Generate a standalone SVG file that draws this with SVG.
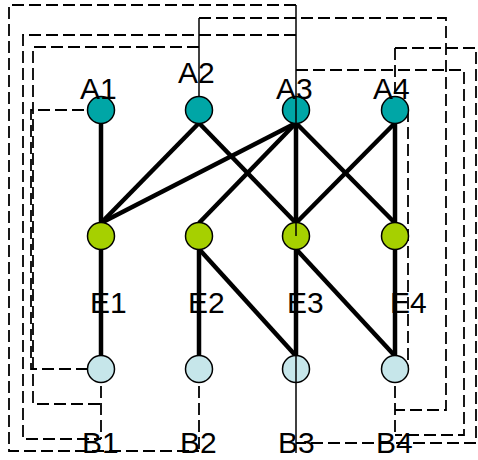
<svg xmlns="http://www.w3.org/2000/svg" width="478" height="460" viewBox="0 0 478 460">
<style>
.d{fill:none;stroke:#000;stroke-width:1.8;stroke-dasharray:12,5}
.t{fill:none;stroke:#000;stroke-width:1.5}
.e{stroke:#000;stroke-width:4.5;stroke-linecap:butt}
.n circle{stroke:#000;stroke-width:1.5}
.a circle{fill:#00A6A6}
.m circle{fill:#A6D000}
.b circle{fill:#C6E6EA}
text{font-family:"Liberation Sans",Arial,sans-serif;font-size:30px;fill:#000}
</style>
<rect width="478" height="460" fill="#fff"/>
<g id="connectors">
<path class="d" d="M101,110 H31 V369 H101"/>
<path class="d" d="M199,47 H33 V404 H101"/>
<path class="d" d="M296,35 H23 V439 H101"/>
<path class="d" d="M296,5 H9 V451 H199"/>
<path class="d" d="M199,18 H446 V410 H395"/>
<path class="d" d="M296,70 H464 V435 H395"/>
<path class="d" d="M395,48 H476 V443 H296"/>
<path class="d" d="M408,110 V369"/>
<path class="d" d="M395,48 V110"/>
<path class="d" d="M101,369 V439"/>
<path class="d" d="M199,369 V451"/>
<path class="d" d="M395,369 V435"/>
<path class="t" d="M199,18 V110"/>
<line class="e" x1="101" y1="123" x2="101" y2="223"/>
<line class="e" x1="199" y1="123" x2="101" y2="223"/>
<line class="e" x1="199" y1="123" x2="296" y2="223"/>
<line class="e" x1="296" y1="123" x2="101" y2="223"/>
<line class="e" x1="296" y1="123" x2="199" y2="223"/>
<line class="e" x1="296" y1="123" x2="296" y2="223"/>
<line class="e" x1="296" y1="123" x2="395" y2="223"/>
<line class="e" x1="395" y1="123" x2="296" y2="223"/>
<line class="e" x1="395" y1="123" x2="395" y2="223"/>
<line class="e" x1="101" y1="249" x2="101" y2="356"/>
<line class="e" x1="199" y1="249" x2="199" y2="356"/>
<line class="e" x1="199" y1="249" x2="296" y2="356"/>
<line class="e" x1="296" y1="249" x2="296" y2="356"/>
<line class="e" x1="296" y1="249" x2="395" y2="356"/>
<line class="e" x1="395" y1="249" x2="395" y2="356"/>
</g>
<g id="A1" class="n a"><circle cx="101" cy="110" r="13.5"/><text x="80" y="99">A1</text></g>
<g id="A2" class="n a"><circle cx="199" cy="110" r="13.5"/><text x="178" y="83">A2</text></g>
<g id="A3" class="n a"><circle cx="296" cy="110" r="13.5"/><text x="276" y="99">A3</text></g>
<g id="A4" class="n a"><circle cx="395" cy="110" r="13.5"/><text x="373" y="99">A4</text></g>
<g id="E1" class="n m"><circle cx="101" cy="236" r="13.5"/><text x="90" y="313">E1</text></g>
<g id="E2" class="n m"><circle cx="199" cy="236" r="13.5"/><text x="188" y="313">E2</text></g>
<g id="E3" class="n m"><circle cx="296" cy="236" r="13.5"/><text x="287" y="313">E3</text></g>
<g id="E4" class="n m"><circle cx="395" cy="236" r="13.5"/><text x="390" y="313">E4</text></g>
<g id="B1" class="n b"><circle cx="101" cy="369" r="13.5"/><text x="82" y="453">B1</text></g>
<g id="B2" class="n b"><circle cx="199" cy="369" r="13.5"/><text x="180" y="453">B2</text></g>
<g id="B3" class="n b"><circle cx="296" cy="369" r="13.5"/><text x="278" y="453">B3</text></g>
<g id="B4" class="n b"><circle cx="395" cy="369" r="13.5"/><text x="376" y="453">B4</text></g>
<g id="overlay">
<path class="t" d="M296,5 V236"/>
<path class="t" d="M296,356 V453"/>
</g>
</svg>
